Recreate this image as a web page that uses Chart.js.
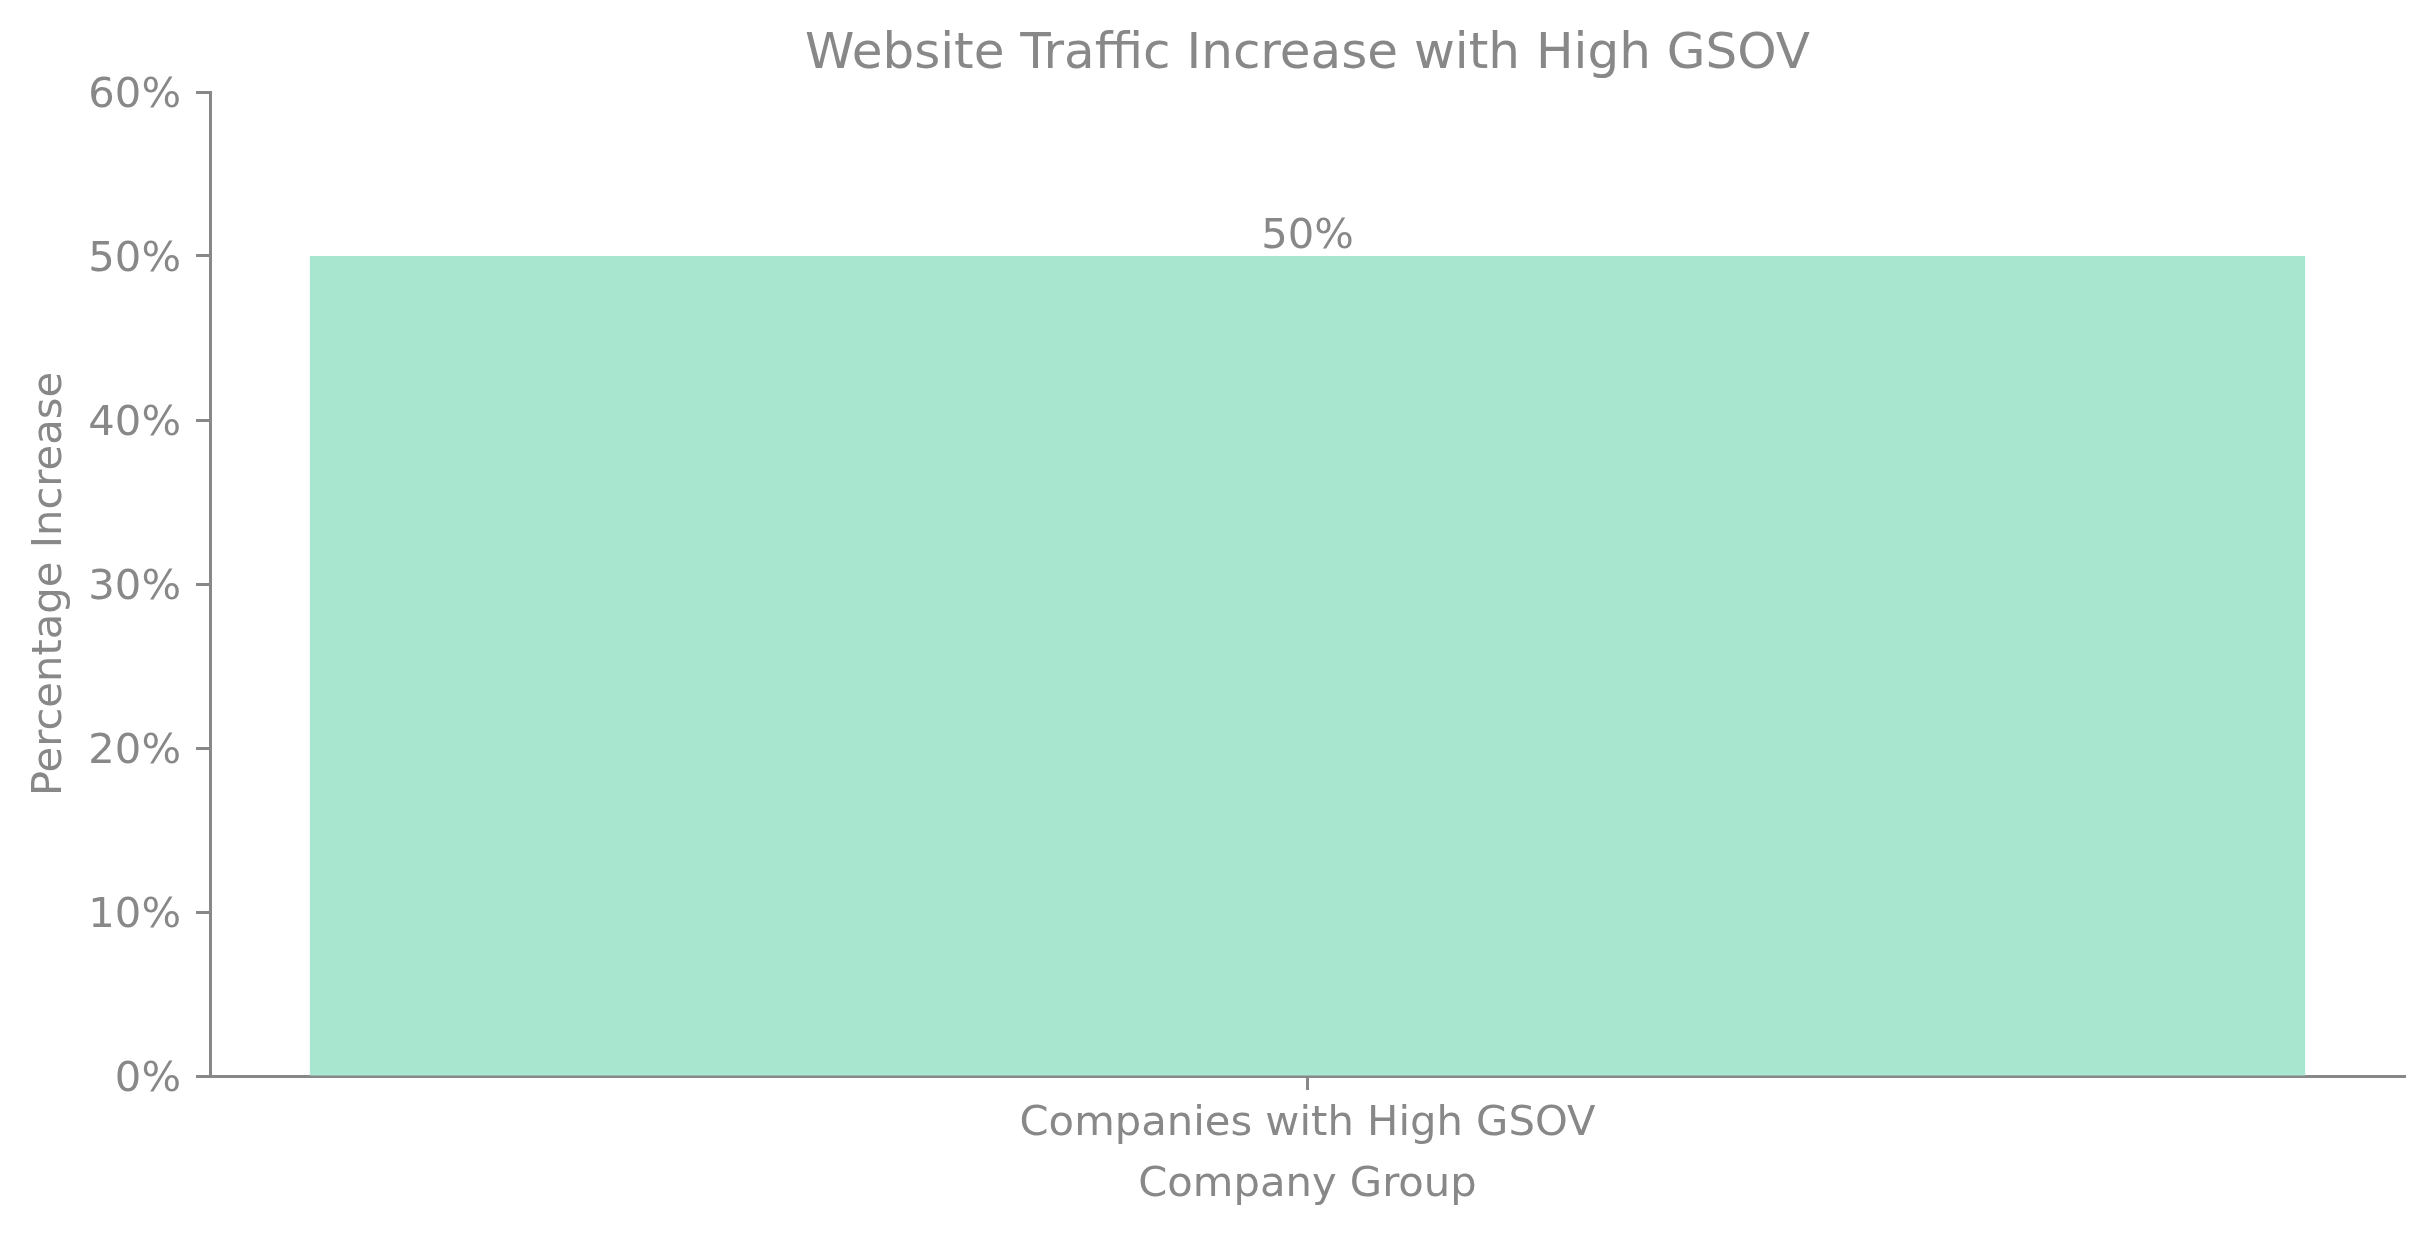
<!DOCTYPE html>
<html>
<head>
<meta charset="utf-8">
<script src="https://cdn.jsdelivr.net/npm/chart.js@4/dist/chart.umd.min.js"></script>
<style>
  html, body { margin: 0; padding: 0; background: #fff; }
  canvas { display: block; }
</style>
</head>
<body>
<canvas id="trafficChart" width="2434" height="1234"></canvas>
<script>
// chart data
const categories = ['Companies with High GSOV'];
const increaseValues = [50];
const yTicks = [0, 10, 20, 30, 40, 50, 60];
const chartTitle = 'Website Traffic Increase with High GSOV';

const grey = '#888888';
const fontFamily = '"DejaVu Sans", sans-serif';

// draws the value above each bar
const barLabels = {
    id: 'barLabels',
    afterDatasetsDraw(chart) {
        const ctx = chart.ctx;
        const meta = chart.getDatasetMeta(0);
        ctx.save();
        ctx.fillStyle = grey;
        ctx.font = '41.7px ' + fontFamily;
        ctx.textAlign = 'center';
        ctx.textBaseline = 'alphabetic';
        meta.data.forEach((bar, i) => {
            ctx.fillText(increaseValues[i] + '%', bar.x, bar.y - 8);
        });
        ctx.restore();
    }
};

let ctx = document.getElementById('trafficChart').getContext('2d');

new Chart(ctx, {
    type: 'bar',
    data: {
        labels: categories,
        datasets: [{
            label: 'Percentage Increase',
            data: increaseValues,
            backgroundColor: '#a8e6cf',
            borderWidth: 0,
            barPercentage: 0.909,
            categoryPercentage: 1
        }]
    },
    options: {
        responsive: false,
        animation: false,
        devicePixelRatio: 1,
        layout: {
            padding: { left: 0, right: 29, top: 0, bottom: 0 }
        },
        plugins: {
            legend: { display: false },
            tooltip: { enabled: false },
            title: { display: false }
        },
        scales: {
            // top axis only carries the chart title, centred over the plot area
            top: {
                type: 'category',
                position: 'top',
                afterFit: scale => { scale.height = 92; },
                grid: { display: false },
                border: { display: false },
                ticks: { display: false },
                title: {
                    display: true,
                    text: chartTitle,
                    color: grey,
                    font: { family: fontFamily, size: 50 },
                    padding: { top: 25, bottom: 7 }
                }
            },
            x: {
                afterFit: scale => { scale.height = 158; },
                grid: {
                    offset: false,
                    drawOnChartArea: false,
                    drawTicks: true,
                    tickLength: 14,
                    tickWidth: 3,
                    tickColor: grey
                },
                border: { display: true, color: grey, width: 3 },
                ticks: {
                    color: grey,
                    padding: 9,
                    font: { family: fontFamily, size: 41.7 }
                },
                title: {
                    display: true,
                    text: 'Company Group',
                    color: grey,
                    font: { family: fontFamily, size: 41.7 },
                    padding: { top: 24, bottom: 24 }
                }
            },
            y: {
                min: yTicks[0],
                max: yTicks[yTicks.length - 1],
                afterFit: scale => { scale.width = 210; },
                afterBuildTicks: scale => {
                    scale.ticks = yTicks.map(v => ({ value: v }));
                },
                grid: {
                    drawOnChartArea: false,
                    drawTicks: true,
                    tickLength: 14,
                    tickWidth: 3,
                    tickColor: grey
                },
                border: { display: true, color: grey, width: 3 },
                ticks: {
                    color: grey,
                    padding: 15,
                    labelOffset: 4,
                    font: { family: fontFamily, size: 41.7 },
                    callback: v => v + '%'
                },
                title: {
                    display: true,
                    text: 'Percentage Increase',
                    color: grey,
                    font: { family: fontFamily, size: 41.7 },
                    padding: { top: 25, bottom: 25 }
                }
            }
        }
    },
    plugins: [barLabels]
});
</script>
</body>
</html>
